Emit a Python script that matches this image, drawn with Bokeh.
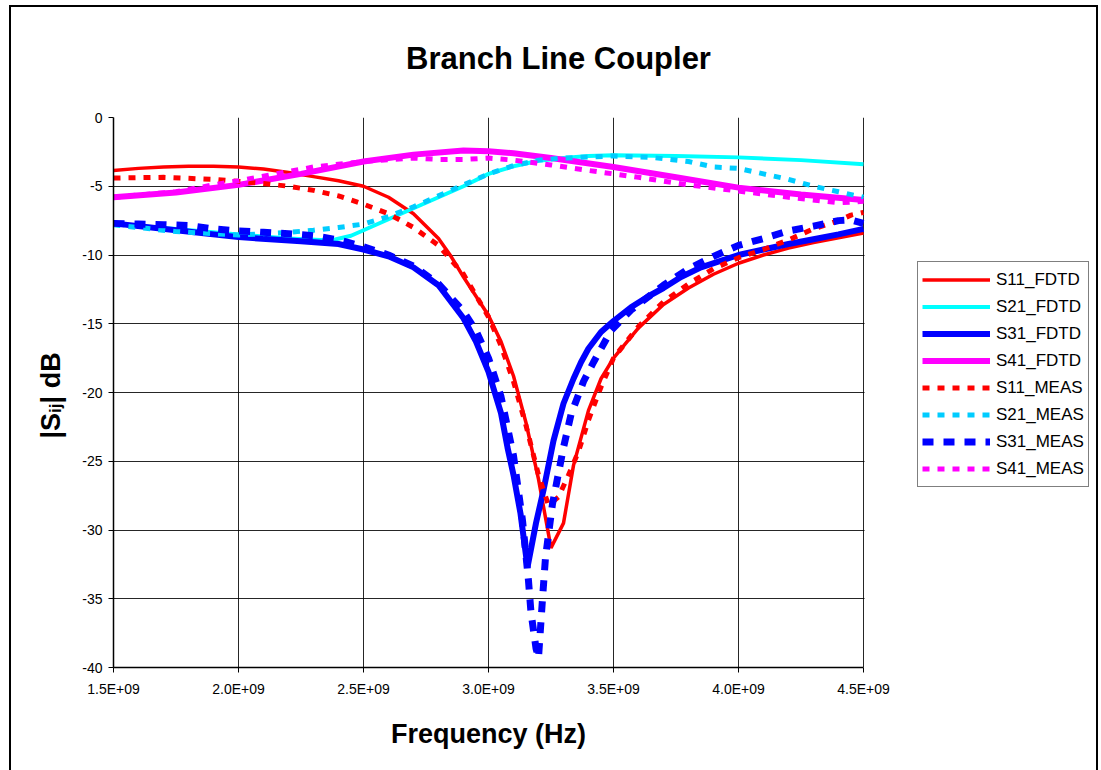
import numpy as np
from bokeh.plotting import figure
from bokeh.models import (Legend, LegendItem, Label, FixedTicker, Range1d, BoxAnnotation, InlineStyleSheet)
from bokeh.embed import file_html
from bokeh.resources import INLINE

# ---------------- data (frequency in GHz, |S| in dB) ----------------
f_s11_fdtd = [1.5, 1.6, 1.7, 1.8, 1.9, 2.0, 2.1, 2.2, 2.3, 2.4, 2.5, 2.6, 2.7, 2.8, 2.85, 2.9, 2.95,
              3.0, 3.05, 3.1, 3.15, 3.2, 3.25, 3.3, 3.34, 3.4, 3.45, 3.5, 3.6, 3.7, 3.8, 3.9, 4.0,
              4.1, 4.2, 4.3, 4.4, 4.5]
s11_fdtd = [-3.85, -3.7, -3.6, -3.55, -3.55, -3.6, -3.75, -4.0, -4.3, -4.6, -5.0, -5.8, -7.0, -8.8, -10.1,
            -11.6, -13.0, -14.4, -16.3, -18.8, -22.2, -26.3, -31.3, -29.5, -25.3, -21.3, -19.0, -17.5,
            -15.3, -13.6, -12.4, -11.4, -10.6, -10.0, -9.5, -9.1, -8.75, -8.4]

f_s21_fdtd = [1.5, 1.75, 2.0, 2.2, 2.37, 2.45, 2.5, 2.55, 2.6, 2.7, 2.8, 2.9, 3.0, 3.1, 3.2, 3.3, 3.4,
              3.5, 3.75, 4.0, 4.25, 4.5]
s21_fdtd = [-7.75, -8.1, -8.5, -8.8, -8.95, -8.6, -8.2, -7.8, -7.4, -6.6, -5.8, -5.0, -4.1, -3.55,
            -3.15, -2.95, -2.8, -2.75, -2.8, -2.9, -3.1, -3.4]

f_s31_fdtd = [1.5, 1.75, 2.0, 2.25, 2.4, 2.5, 2.6, 2.7, 2.8, 2.9, 2.95, 3.0, 3.05, 3.076, 3.1, 3.128,
              3.156, 3.19, 3.22, 3.26, 3.3, 3.34, 3.37, 3.4, 3.45, 3.5, 3.57, 3.64, 3.7, 3.77, 3.85,
              4.0, 4.1, 4.2, 4.3, 4.4, 4.5]
s31_fdtd = [-7.7, -8.2, -8.7, -9.0, -9.2, -9.6, -10.1, -10.9, -12.2, -14.6, -16.3, -18.5, -21.5, -24.0,
            -26.0, -28.8, -32.7, -29.5, -27.1, -23.5, -20.8, -19.0, -17.8, -16.8, -15.6, -14.8, -13.8,
            -13.0, -12.4, -11.6, -10.9, -10.0, -9.6, -9.2, -8.85, -8.5, -8.1]

f_s41_fdtd = [1.5, 1.75, 2.0, 2.25, 2.5, 2.7, 2.9, 3.0, 3.1, 3.25, 3.5, 3.75, 4.0, 4.25, 4.5]
s41_fdtd = [-5.8, -5.45, -4.9, -4.1, -3.2, -2.7, -2.4, -2.45, -2.6, -2.95, -3.6, -4.35, -5.1, -5.6, -6.0]

f_s11_meas = [1.5, 1.7, 1.9, 2.0, 2.1, 2.2, 2.3, 2.4, 2.5, 2.6, 2.7, 2.8, 2.9, 3.0, 3.05, 3.1, 3.15,
              3.2, 3.24, 3.28, 3.32, 3.36, 3.4, 3.45, 3.5, 3.6, 3.7, 3.8, 3.9, 4.0, 4.1, 4.2, 4.3,
              4.4, 4.45, 4.5]
s11_meas = [-4.4, -4.35, -4.5, -4.65, -4.8, -5.0, -5.3, -5.7, -6.3, -7.0, -8.0, -9.3, -11.4, -14.5,
            -16.6, -19.2, -22.4, -26.0, -28.2, -27.6, -26.0, -24.3, -22.0, -19.6, -17.5, -15.2, -13.4,
            -12.1, -11.0, -10.2, -9.6, -8.9, -8.1, -7.5, -7.1, -6.9]

f_s21_meas = [1.5, 1.75, 2.0, 2.2, 2.3, 2.4, 2.5, 2.6, 2.7, 2.8, 2.9, 3.0, 3.1, 3.2, 3.3, 3.5, 3.65,
              3.8, 3.9, 4.0, 4.1, 4.2, 4.3, 4.4, 4.5]
s21_meas = [-7.8, -8.3, -8.55, -8.35, -8.2, -8.0, -7.75, -7.2, -6.5, -5.7, -4.9, -4.1, -3.5, -3.1,
            -2.95, -2.8, -2.9, -3.2, -3.6, -3.7, -4.1, -4.5, -5.0, -5.4, -5.8]

f_s31_meas = [1.5, 1.6, 1.7, 1.8, 1.9, 2.0, 2.1, 2.2, 2.3, 2.4, 2.5, 2.6, 2.7, 2.8, 2.9, 2.95, 3.0,
              3.05, 3.1, 3.136, 3.16, 3.17, 3.19, 3.2, 3.216, 3.228, 3.256, 3.3, 3.33, 3.38, 3.42,
              3.49, 3.57, 3.7, 3.8, 3.9, 4.0, 4.1, 4.2, 4.3, 4.4, 4.45, 4.5]
s31_meas = [-7.7, -7.75, -7.8, -7.85, -8.1, -8.25, -8.35, -8.45, -8.6, -8.9, -9.4, -10.0, -10.8,
            -12.1, -14.1, -15.5, -17.5, -20.3, -24.6, -29.3, -33.7, -36.0, -38.6, -39.3, -35.0,
            -32.0, -28.1, -24.0, -21.6, -19.2, -17.8, -15.5, -14.0, -12.2, -11.0, -10.1, -9.3,
            -8.8, -8.25, -7.9, -7.5, -7.45, -7.7]

f_s41_meas = [1.5, 1.75, 1.9, 2.0, 2.15, 2.3, 2.5, 2.7, 2.8, 2.9, 3.0, 3.1, 3.25, 3.4, 3.6, 3.8, 4.0,
              4.2, 4.4, 4.5]
s41_meas = [-5.8, -5.4, -4.9, -4.6, -4.1, -3.6, -3.2, -2.95, -3.05, -3.05, -2.95, -3.1, -3.45, -3.85,
            -4.35, -4.9, -5.35, -5.8, -6.2, -6.1]

x_ticks = [1.5e9, 2.0e9, 2.5e9, 3.0e9, 3.5e9, 4.0e9, 4.5e9]
x_tick_labels = ["1.5E+09", "2.0E+09", "2.5E+09", "3.0E+09", "3.5E+09", "4.0E+09", "4.5E+09"]
y_ticks = [0, -5, -10, -15, -20, -25, -30, -35, -40]
y_tick_labels = ["0", "-5", "-10", "-15", "-20", "-25", "-30", "-35", "-40"]
x_min, x_max = 1.5e9, 4.5e9
y_min, y_max = -40, 0

W, H = 1101, 770
FONT = "Liberation Sans"
# plot-area pixel layout: data area 113..863 px; frame extended to the right to host the legend
FL, FR_DATA, FR = 113, 863, 1097
x_right = x_min + (x_max - x_min) * (FR - FL) / (FR_DATA - FL)

frame_css = InlineStyleSheet(css="""
:host::after {
  content: '';
  position: absolute;
  left: 9px; top: 5px; width: 1089px; height: 766px;
  box-sizing: border-box;
  border: 2px solid black; border-bottom: none;
  pointer-events: none;
}
""")

p = figure(width=W, height=H, output_backend="svg", toolbar_location=None,
           x_range=Range1d(x_min, x_right), y_range=Range1d(y_min, y_max),
           min_border_left=FL, min_border_right=W - FR, min_border_top=117, min_border_bottom=103,
           stylesheets=[frame_css])
p.background_fill_color = "white"
p.border_fill_color = "white"
p.outline_line_color = None

p.xaxis.ticker = FixedTicker(ticks=x_ticks)
p.xaxis.major_label_overrides = dict(zip(x_ticks, x_tick_labels))
p.xaxis.bounds = (x_min, x_max)
p.yaxis.ticker = FixedTicker(ticks=y_ticks)
p.yaxis.major_label_overrides = dict(zip(y_ticks, y_tick_labels))
for ax in (p.xaxis[0], p.yaxis[0]):
    ax.axis_line_color = "black"
    ax.axis_line_width = 1.5
    ax.major_tick_line_color = "black"
    ax.major_tick_out = 5
    ax.major_tick_in = 0
    ax.minor_tick_out = 0
    ax.minor_tick_in = 0
    ax.major_label_text_font = FONT
    ax.major_label_text_font_size = "14px"
    ax.major_label_text_color = "black"
p.xaxis.major_label_standoff = 8
p.yaxis.major_label_standoff = 6
p.grid.grid_line_color = "black"
p.grid.grid_line_alpha = 0.85
p.grid.grid_line_width = 1

def hz(f):
    return np.array(f) * 1e9

r11f = p.line(hz(f_s11_fdtd), s11_fdtd, line_color="#FF0000", line_width=3.5)
r21f = p.line(hz(f_s21_fdtd), s21_fdtd, line_color="#00FFFF", line_width=4)
r31f = p.line(hz(f_s31_fdtd), s31_fdtd, line_color="#0000FF", line_width=6)
r41f = p.line(hz(f_s41_fdtd), s41_fdtd, line_color="#FF00FF", line_width=6)
r11m = p.line(hz(f_s11_meas), s11_meas, line_color="#FF0000", line_width=5, line_dash="7 8")
r21m = p.line(hz(f_s21_meas), s21_meas, line_color="#00CCFF", line_width=5, line_dash="7 8")
r31m = p.line(hz(f_s31_meas), s31_meas, line_color="#0000FF", line_width=7, line_dash="11 10")
r41m = p.line(hz(f_s41_meas), s41_meas, line_color="#FF00FF", line_width=5, line_dash="7 8")

# blank the area right of the last frequency (hosts the legend)
p.add_layout(BoxAnnotation(left=x_max + 4e6, fill_color="white", fill_alpha=1.0, line_color=None))

items = [LegendItem(label="S11_FDTD", renderers=[r11f]),
         LegendItem(label="S21_FDTD", renderers=[r21f]),
         LegendItem(label="S31_FDTD", renderers=[r31f]),
         LegendItem(label="S41_FDTD", renderers=[r41f]),
         LegendItem(label="S11_MEAS", renderers=[r11m]),
         LegendItem(label="S21_MEAS", renderers=[r21m]),
         LegendItem(label="S31_MEAS", renderers=[r31m]),
         LegendItem(label="S41_MEAS", renderers=[r41m])]
legend = Legend(items=items, location=(917 - FL, 667 - 487), glyph_width=68, glyph_height=27,
                label_height=27, spacing=0, padding=4, margin=0, label_standoff=6,
                label_text_font=FONT, label_text_font_size="17px", label_text_color="black",
                border_line_color="black", border_line_width=1, background_fill_color="white",
                background_fill_alpha=1.0)
p.add_layout(legend)

# title and axis titles (canvas pixels, y measured from the top)
p.add_layout(Label(x=558, y=58, x_units="canvas", y_units="canvas", text="Branch Line Coupler",
                   text_font=FONT, text_font_style="bold", text_font_size="31px",
                   text_align="center", text_baseline="middle", text_color="black"), "above")
p.add_layout(Label(x=488, y=733, x_units="canvas", y_units="canvas", text="Frequency (Hz)",
                   text_font=FONT, text_font_style="bold", text_font_size="27px",
                   text_align="center", text_baseline="middle", text_color="black"), "below")
ang = np.pi / 2
bx = 50
y0 = 438
for txt, dx, dy, fs in [("|S", 0, 0, "27px"), ("ij", 5, 25.6, "17px"), ("| dB", 0, 35.1, "27px")]:
    p.add_layout(Label(x=bx + dx, y=y0 - dy, x_units="canvas", y_units="canvas", text=txt,
                       angle=ang, text_font=FONT, text_font_style="bold", text_font_size=fs,
                       text_align="left", text_baseline="alphabetic", text_color="black"), "left")

open("out.html", "w").write(file_html(p, INLINE))
